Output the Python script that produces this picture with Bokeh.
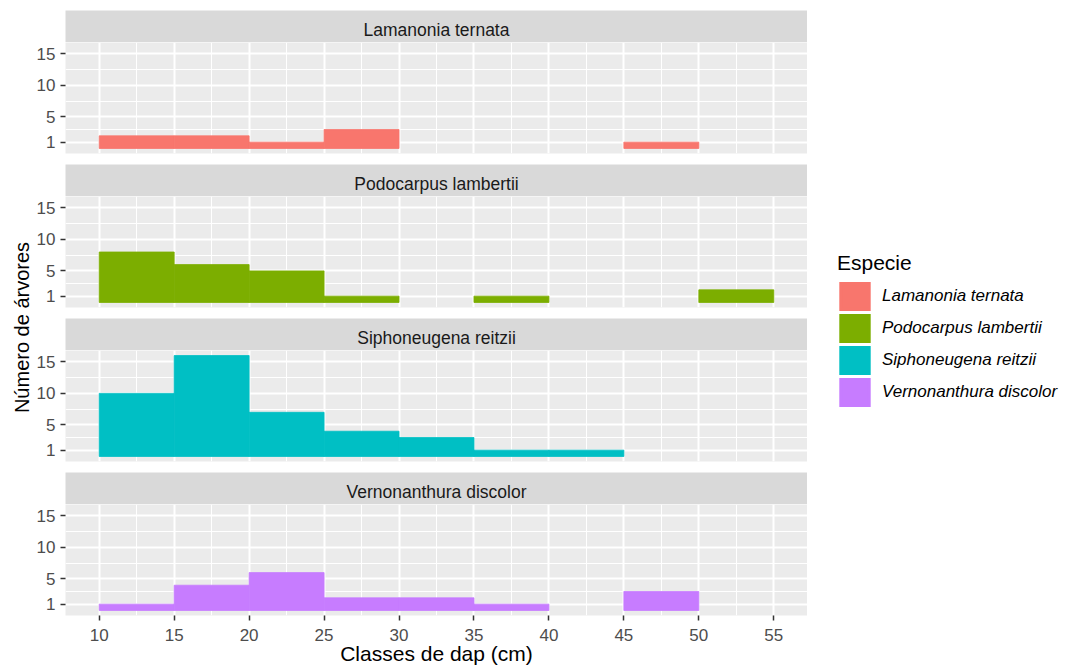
from math import pi
from bokeh.plotting import figure
from bokeh.models import (ColumnDataSource, Range1d, LinearAxis, Grid, FixedTicker,
                          Label, Legend, LegendItem)
from bokeh.layouts import row, column
from bokeh.embed import file_html
from bokeh.resources import INLINE

# ---------------- data ----------------
bin_left = [10, 15, 20, 25, 30, 35, 40, 45, 50]
bin_right = [15, 20, 25, 30, 35, 40, 45, 50, 55]
species = ["Lamanonia ternata", "Podocarpus lambertii",
           "Siphoneugena reitzii", "Vernonanthura discolor"]
counts_lamanonia = [2, 2, 1, 3, 0, 0, 0, 1, 0]
counts_podocarpus = [8, 6, 5, 1, 0, 1, 0, 0, 2]
counts_siphoneugena = [10, 16, 7, 4, 3, 1, 1, 0, 0]
counts_vernonanthura = [1, 4, 6, 2, 2, 1, 0, 3, 0]
colors = ["#F8766D", "#7CAE00", "#00BFC4", "#C77CFF"]
x_ticks = [10, 15, 20, 25, 30, 35, 40, 45, 50, 55]
x_minor = [12.5, 17.5, 22.5, 27.5, 32.5, 37.5, 42.5, 47.5, 52.5]
y_ticks = [1, 5, 10, 15]
y_minor = [3, 7.5, 12.5]
x_title = "Classes de dap (cm)"
y_title = "Número de árvores"
legend_title = "Especie"

all_counts = [counts_lamanonia, counts_podocarpus, counts_siphoneugena, counts_vernonanthura]

FONT = "Liberation Sans"

# ggplot-like 5% expansion
x_lo, x_hi = min(bin_left), max(bin_right)
x_pad = 0.05 * (x_hi - x_lo)
y_max = max(max(c) for c in all_counts)
y_pad = 0.05 * y_max

YT_W = 33
PANEL_W = 774
LEG_W = 260
LEFT_B = 30
FRAME_H = 111
STRIP_H = 32
TOP_M = 10
GAP = 11
BOTTOM_AX = 52
TOTAL_H = TOP_M + 4 * (STRIP_H + FRAME_H) + 3 * GAP + BOTTOM_AX  # 667


def make_strip(name, top):
    s = figure(width=PANEL_W, height=STRIP_H + top, x_range=Range1d(0, 1),
               y_range=Range1d(0, STRIP_H),
               x_axis_type=None, y_axis_type=None, toolbar_location=None, output_backend="svg",
               min_border_left=LEFT_B, min_border_right=0, min_border_top=top, min_border_bottom=0,
               background_fill_color="#D9D9D9", border_fill_color="white", outline_line_color=None)
    s.add_layout(Label(x=0.5, y=12.2, text=name, text_align="center", text_baseline="middle",
                       text_font=FONT, text_font_size="17.5px", text_color="#1A1A1A"))
    return s


def make_panel(idx, last):
    bb = BOTTOM_AX if last else GAP
    p = figure(width=PANEL_W, height=FRAME_H + bb,
               x_range=Range1d(x_lo - x_pad, x_hi + x_pad),
               y_range=Range1d(0 - y_pad, y_max + y_pad),
               x_axis_type=None, y_axis_type=None, toolbar_location=None, output_backend="svg",
               min_border_left=LEFT_B, min_border_right=0, min_border_top=0,
               min_border_bottom=bb,
               background_fill_color="#EBEBEB", border_fill_color="white", outline_line_color=None)
    xt = FixedTicker(ticks=x_ticks, minor_ticks=x_minor)
    yt = FixedTicker(ticks=y_ticks, minor_ticks=y_minor)
    p.add_layout(Grid(dimension=0, ticker=xt, grid_line_color="white", grid_line_width=2,
                      minor_grid_line_color="white", minor_grid_line_width=1))
    p.add_layout(Grid(dimension=1, ticker=yt, grid_line_color="white", grid_line_width=2,
                      minor_grid_line_color="white", minor_grid_line_width=1))
    ya = LinearAxis(ticker=yt, axis_line_color=None, major_tick_in=0, major_tick_out=5,
                    major_tick_line_color="#333333", major_tick_line_width=1.5,
                    minor_tick_line_color=None, major_label_text_font=FONT,
                    major_label_text_font_size="17px", major_label_text_color="#4D4D4D",
                    major_label_standoff=5)
    p.add_layout(ya, "left")
    if last:
        xa = LinearAxis(ticker=xt, axis_line_color=None, major_tick_in=0, major_tick_out=5,
                        major_tick_line_color="#333333", major_tick_line_width=1.5,
                        minor_tick_line_color=None, major_label_text_font=FONT,
                        major_label_text_font_size="17px", major_label_text_color="#4D4D4D",
                        major_label_standoff=8, axis_label=x_title,
                        axis_label_text_font=FONT, axis_label_text_font_size="21px",
                        axis_label_text_font_style="normal", axis_label_text_color="black",
                        axis_label_standoff=-2)
        p.add_layout(xa, "below")
    cnt = all_counts[idx]
    keep = [k for k, c in enumerate(cnt) if c > 0]   # empty bins draw nothing
    src = ColumnDataSource(dict(left=[bin_left[k] for k in keep],
                                right=[bin_right[k] for k in keep],
                                top=[cnt[k] for k in keep],
                                bottom=[0] * len(keep)))
    # thin same-colour outline hides anti-aliasing seams between adjacent bins
    p.quad(left="left", right="right", top="top", bottom="bottom", source=src,
           fill_color=colors[idx], line_color=colors[idx], line_width=0.8)
    return p


children = []
for i, name in enumerate(species):
    children.append(make_strip(name, TOP_M if i == 0 else 0))
    children.append(make_panel(i, i == len(species) - 1))
panels = column(*children, spacing=0)

# y-axis title
yf = figure(width=YT_W, height=TOTAL_H, x_range=Range1d(0, YT_W), y_range=Range1d(0, TOTAL_H),
            x_axis_type=None, y_axis_type=None, toolbar_location=None, output_backend="svg",
            min_border=0, outline_line_color=None)
yf.add_layout(Label(x=21, y=TOTAL_H - 327, text=y_title, angle=pi / 2, text_align="center",
                    text_baseline="middle", text_font=FONT, text_font_size="20px",
                    text_color="black"))

# legend
lf = figure(width=LEG_W, height=TOTAL_H, x_range=Range1d(0, LEG_W), y_range=Range1d(0, TOTAL_H),
            x_axis_type=None, y_axis_type=None, toolbar_location=None, output_backend="svg",
            min_border=0, outline_line_color=None)
nan = float("nan")
items = []
for name, c in zip(species, colors):
    # placeholder renderer (NaN geometry, nothing drawn) that only feeds the legend key
    r = lf.quad(left=[nan], right=[nan], top=[nan], bottom=[nan], fill_color=c,
                line_color=c, line_width=3.4, line_join="miter")
    items.append(LegendItem(label=name, renderers=[r]))
leg = Legend(items=items, location=(30, TOTAL_H - 408), title=legend_title,
             glyph_width=35, glyph_height=32, spacing=0, label_standoff=10,
             padding=0, margin=0, border_line_color=None, background_fill_alpha=0,
             label_text_font=FONT, label_text_font_size="17px", label_text_font_style="italic",
             label_text_color="black", title_text_font=FONT, title_text_font_size="21px",
             title_text_font_style="normal", title_text_color="black", title_standoff=5)
lf.add_layout(leg)

layout = row(yf, panels, lf, spacing=0)

with open("out.html", "w", encoding="utf-8") as f:
    f.write(file_html(layout, INLINE))
